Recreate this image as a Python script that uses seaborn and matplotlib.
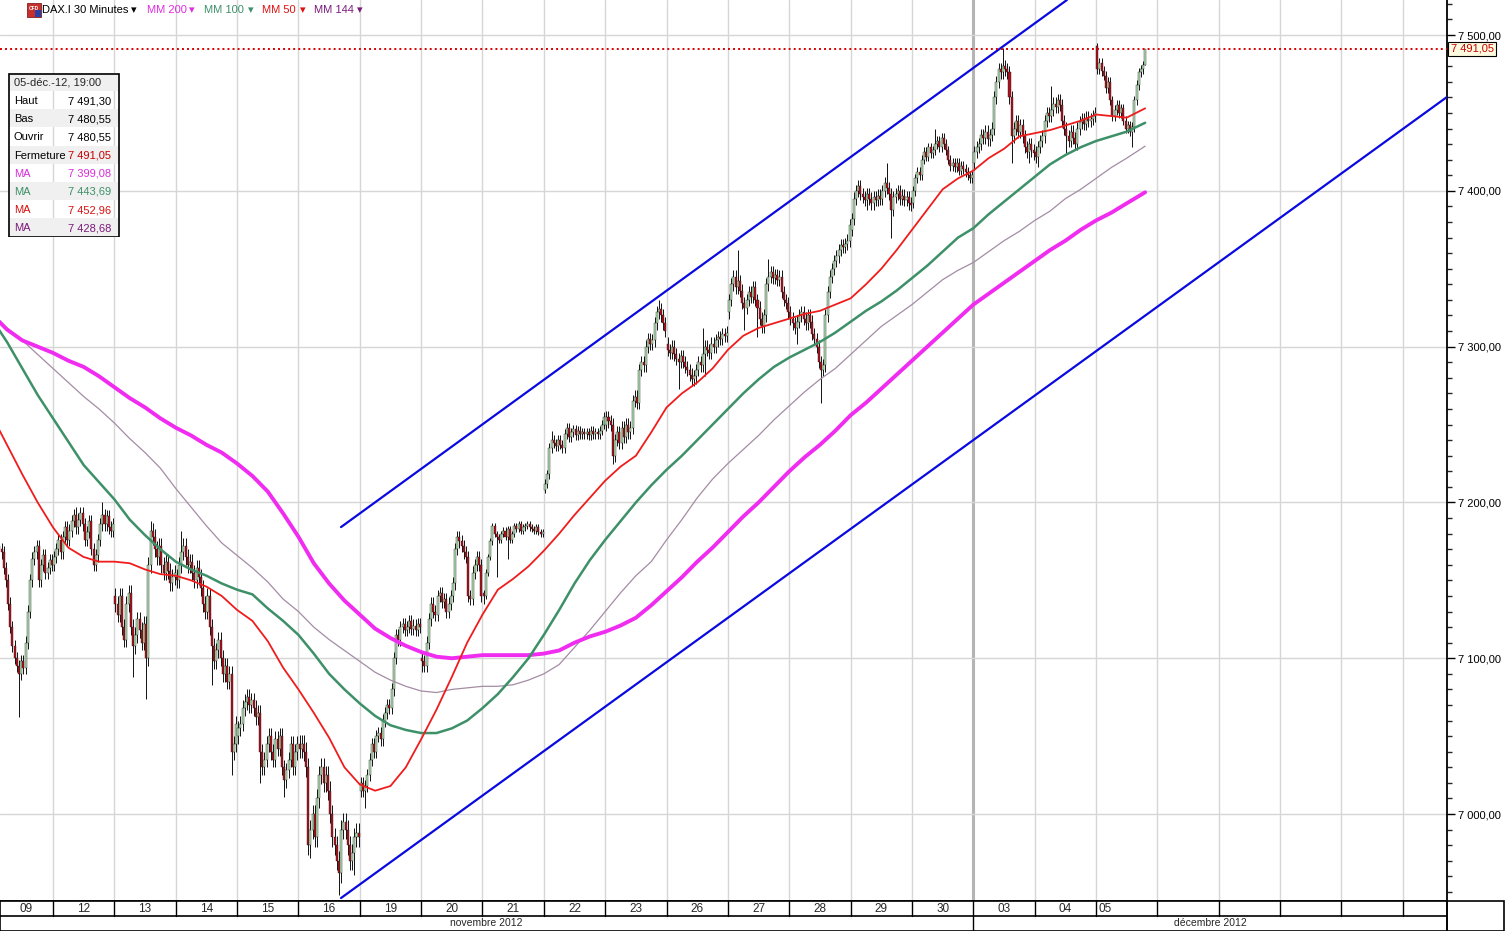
import numpy as np
import pandas as pd
import seaborn as sns
import matplotlib.pyplot as plt
from matplotlib.patches import Rectangle
from matplotlib.ticker import MultipleLocator, FuncFormatter
import matplotlib.transforms as mtransforms

# trading days shown on the date axis (30 minute bars, 28 per session)
day_labels = ['09', '12', '13', '14', '15', '16', '19', '20', '21', '22', '23',
              '26', '27', '28', '29', '30', '03', '04', '05']
bars_per_day = 28
empty_days = 5  # blank slots to the right of the last session

# open of the first bar of each session
day_opens = [7155, 7160, 7140, 7152, 7050, 7045, 7015, 7100, 7142, 7208, 7250,
             7302, 7322, 7322, 7375, 7392, 7418, 7425, 7493]

# closes of each bar, one list per session
closes_by_day = [
    [7160, 7165, 7172, 7170, 7168, 7158, 7150, 7135, 7120, 7108, 7100, 7095, 7090, 7098,
     7094, 7110, 7130, 7150, 7164, 7168, 7172, 7150, 7160, 7166, 7155, 7158, 7163, 7160],
    [7165, 7170, 7176, 7168, 7178, 7184, 7176, 7182, 7188, 7192, 7184, 7189, 7193, 7186,
     7176, 7181, 7188, 7170, 7160, 7166, 7176, 7186, 7192, 7186, 7191, 7184, 7182, 7186],
    [7135, 7128, 7140, 7120, 7112, 7135, 7142, 7120, 7108, 7115, 7125, 7118, 7110, 7122,
     7100, 7160, 7182, 7178, 7170, 7165, 7172, 7160, 7155, 7162, 7156, 7148, 7152, 7155],
    [7150, 7160, 7168, 7172, 7165, 7160, 7162, 7155, 7150, 7158, 7152, 7145, 7135, 7130,
     7140, 7120, 7108, 7098, 7105, 7112, 7100, 7090, 7095, 7085, 7090, 7040, 7045, 7058],
    [7055, 7058, 7068, 7072, 7075, 7070, 7073, 7068, 7062, 7065, 7040, 7030, 7035, 7045,
     7050, 7040, 7035, 7048, 7042, 7050, 7030, 7022, 7028, 7035, 7045, 7030, 7040, 7045],
    [7042, 7045, 7040, 7030, 6980, 6990, 7000, 6985, 7010, 7025, 7030, 7020, 7025, 7015,
     7000, 6985, 6980, 6970, 6962, 6990, 6995, 6990, 6980, 6970, 6975, 6985, 6988, 6985],
    [7020, 7015, 7018, 7025, 7035, 7045, 7040, 7050, 7052, 7048, 7060, 7065, 7070, 7068,
     7080, 7100, 7115, 7112, 7120, 7122, 7118, 7120, 7124, 7119, 7121, 7118, 7122, 7120],
    [7098, 7095, 7110, 7125, 7135, 7130, 7128, 7140, 7142, 7136, 7138, 7130, 7135, 7140,
     7148, 7170, 7178, 7175, 7172, 7168, 7165, 7140, 7138, 7155, 7160, 7165, 7160, 7140],
    [7140, 7155, 7165, 7175, 7185, 7180, 7178, 7176, 7180, 7182, 7178, 7183, 7176, 7180,
     7185, 7183, 7186, 7182, 7184, 7185, 7186, 7184, 7183, 7182, 7184, 7181, 7180, 7181],
    [7212, 7218, 7235, 7240, 7238, 7236, 7240, 7237, 7235, 7244, 7248, 7242, 7245, 7247,
     7243, 7246, 7244, 7245, 7244, 7245, 7243, 7246, 7244, 7245, 7244, 7246, 7250, 7255],
    [7255, 7252, 7250, 7230, 7240, 7245, 7238, 7248, 7242, 7250, 7245, 7248, 7265, 7268,
     7264, 7285, 7290, 7288, 7300, 7305, 7302, 7304, 7315, 7322, 7324, 7320, 7315, 7310],
    [7298, 7296, 7300, 7295, 7292, 7290, 7294, 7290, 7287, 7285, 7282, 7279, 7281, 7285,
     7290, 7288, 7295, 7300, 7298, 7296, 7302, 7300, 7304, 7306, 7305, 7308, 7307, 7309],
    [7330, 7340, 7345, 7338, 7342, 7336, 7328, 7325, 7330, 7335, 7332, 7338, 7330, 7325,
     7318, 7313, 7320, 7340, 7345, 7348, 7344, 7346, 7343, 7345, 7335, 7330, 7328, 7322],
    [7318, 7315, 7312, 7316, 7320, 7322, 7318, 7315, 7320, 7316, 7308, 7305, 7300, 7290,
     7285, 7288, 7320, 7335, 7345, 7350, 7355, 7358, 7362, 7365, 7364, 7366, 7368, 7378],
    [7382, 7395, 7400, 7403, 7398, 7396, 7394, 7398, 7395, 7392, 7396, 7394, 7397, 7395,
     7400, 7405, 7402, 7398, 7388, 7396, 7398, 7400, 7395, 7397, 7394, 7396, 7392, 7391],
    [7400, 7408, 7412, 7410, 7420, 7425, 7422, 7428, 7424, 7426, 7430, 7432, 7428, 7434,
     7430, 7426, 7420, 7416, 7418, 7415, 7418, 7413, 7416, 7414, 7412, 7410, 7408, 7410],
    [7425, 7428, 7430, 7436, 7434, 7438, 7433, 7436, 7440, 7460, 7470, 7478, 7476, 7480,
     7478, 7476, 7460, 7435, 7440, 7445, 7438, 7442, 7435, 7428, 7425, 7430, 7426, 7424],
    [7422, 7428, 7432, 7435, 7445, 7450, 7448, 7452, 7456, 7454, 7458, 7455, 7445, 7440,
     7435, 7432, 7438, 7434, 7430, 7440, 7444, 7446, 7443, 7447, 7445, 7446, 7448, 7450],
    [7478, 7482, 7477, 7474, 7466, 7470, 7458, 7448, 7452, 7455, 7450, 7453, 7445, 7440,
     7442, 7438, 7441, 7458, 7468, 7476, 7478, 7480.55, 7491.05],
]

# usual wick length per session, in points
typical_wick = [4, 4, 5, 5, 5, 6, 4, 4, 2, 3, 4, 4, 4, 4, 4, 3, 4, 4, 3]

# bars with a visibly longer wick: (session, bar) -> (high, low)
notable_wicks = {
    (0, 12): (None, 7062), (1, 10): (7197, None), (1, 22): (7200, None),
    (2, 8): (None, 7088), (2, 14): (None, 7074), (2, 16): (7188, None),
    (3, 2): (7182, None), (3, 16): (None, 7083), (3, 25): (None, 7025),
    (4, 10): (None, 7020), (4, 21): (None, 7011),
    (5, 5): (None, 6972), (5, 18): (None, 6948), (5, 25): (None, 6961),
    (6, 2): (None, 7004), (7, 0): (None, 7091), (8, 0): (None, 7135),
    (8, 6): (None, 7152), (8, 11): (None, 7164),
    (9, 0): (None, 7206), (9, 3): (7246, None),
    (10, 3): (None, 7225), (10, 24): (7330, None),
    (11, 5): (None, 7273), (11, 13): (None, 7276), (11, 16): (7312, None), (11, 17): (None, 7281),
    (12, 4): (7362, None), (12, 7): (None, 7311), (12, 13): (None, 7306), (12, 18): (7356, None),
    (13, 3): (None, 7302), (13, 14): (None, 7264),
    (14, 7): (None, 7388), (14, 16): (7418, None), (14, 18): (None, 7370),
    (15, 10): (7440, None),
    (16, 13): (7492, None), (16, 17): (None, 7418), (16, 25): (None, 7418),
    (17, 1): (None, 7415), (17, 7): (7467, None), (17, 14): (None, 7424),
    (18, 0): (7495, None), (18, 16): (None, 7428), (18, 22): (7491.30, 7480.55),
}

# moving averages, read every quarter session (session index units)
ma_times = [i * 0.25 for i in range(75)] + [18.8]
mm200 = [7321, 7311, 7304, 7300, 7296, 7291, 7287, 7281, 7274, 7267,
         7261, 7254, 7248, 7243, 7237, 7232, 7225, 7217, 7207, 7193,
         7178, 7161, 7148, 7137, 7128, 7119, 7113, 7108, 7104, 7101,
         7100, 7101, 7102, 7102, 7102, 7102, 7103, 7105, 7110, 7114,
         7117, 7121, 7126, 7134, 7143, 7152, 7162, 7171, 7181, 7191,
         7200, 7210, 7220, 7229, 7237, 7246, 7256, 7264, 7273, 7282,
         7291, 7300, 7309, 7318, 7327, 7334, 7341, 7348, 7355, 7362,
         7368, 7375, 7381, 7386, 7392, 7399.08]
mm100 = [7318, 7303, 7286, 7269, 7254, 7239, 7224, 7213, 7202, 7189,
         7179, 7170, 7162, 7157, 7153, 7148, 7144, 7141, 7132, 7124,
         7115, 7103, 7090, 7080, 7071, 7063, 7057, 7054, 7052, 7052,
         7055, 7060, 7068, 7077, 7088, 7100, 7115, 7131, 7148, 7163,
         7176, 7188, 7200, 7211, 7221, 7230, 7240, 7250, 7260, 7270,
         7279, 7287, 7293, 7298, 7303, 7309, 7316, 7323, 7329, 7336,
         7344, 7352, 7361, 7370, 7376, 7385, 7393, 7401, 7409, 7417,
         7423, 7428, 7432, 7435, 7438, 7443.69]
mm50 = [7256, 7237, 7218, 7200, 7184, 7171, 7165, 7162, 7162, 7161,
        7157, 7154, 7153, 7150, 7146, 7140, 7131, 7124, 7111, 7094,
        7080, 7065, 7049, 7030, 7019, 7015, 7018, 7030, 7048, 7067,
        7088, 7110, 7128, 7144, 7151, 7159, 7169, 7180, 7192, 7203,
        7214, 7223, 7230, 7245, 7261, 7270, 7277, 7286, 7298, 7307,
        7312, 7315, 7318, 7321, 7323, 7327, 7331, 7340, 7350, 7362,
        7375, 7388, 7401, 7408, 7413, 7421, 7427, 7435, 7437, 7439,
        7442, 7445, 7449, 7448, 7447, 7452.96]
mm144 = [7320, 7312, 7304, 7295, 7286, 7277, 7268, 7260, 7251, 7241,
         7232, 7222, 7209, 7197, 7185, 7174, 7166, 7158, 7149, 7138,
         7130, 7120, 7112, 7105, 7098, 7091, 7086, 7082, 7079, 7078,
         7080, 7081, 7082, 7082, 7083, 7086, 7090, 7096, 7107, 7118,
         7130, 7142, 7153, 7162, 7176, 7189, 7203, 7215, 7225, 7234,
         7243, 7253, 7262, 7271, 7279, 7286, 7295, 7304, 7313, 7320,
         7327, 7335, 7343, 7349, 7354, 7361, 7368, 7374, 7381, 7387,
         7395, 7401, 7408, 7415, 7421, 7428.68]

# hand drawn channel (anchor times and prices)
upper_channel_t = [5.694, 17.525]
upper_channel_p = [7184.2, 7522.5]
lower_channel_t = [5.694, 23.718]
lower_channel_p = [6946.1, 7460.2]

last_close = 7491.05
info_rows = [('Haut', '7 491,30'), ('Bas', '7 480,55'), ('Ouvrir', '7 480,55'),
             ('Fermeture', '7 491,05'), ('MA', '7 399,08'), ('MA', '7 443,69'),
             ('MA', '7 452,96'), ('MA', '7 428,68')]

# ---------------------------------------------------------------------------
sns.set_theme(style='white')
plt.rcParams['font.family'] = ['Liberation Sans', 'DejaVu Sans']

C_UP, C_DN = '#b4e0b4', '#b0101c'
C200, C100, C50, C144 = '#f02cf0', '#3d9068', '#f01c1c', '#a48ca4'

W, H = 1505, 931
fig = plt.figure(figsize=(W / 100, H / 100), dpi=100)
fig.patch.set_facecolor('white')

def fx(px):
    return px / W

def fy(py):
    return 1 - py / H

plot_right, plot_bottom = 1447, 901
ax = fig.add_axes([0, fy(plot_bottom), fx(plot_right), plot_bottom / H])
xmin, xmax = 0.136, 23.72
ymin, ymax = 6944.2, 7522.5
ax.set_xlim(xmin, xmax)
ax.set_ylim(ymin, ymax)

# build OHLC table
rows = []
for d, closes in enumerate(closes_by_day):
    prev = day_opens[d]
    for j, c in enumerate(closes):
        o = prev
        hi = max(o, c) + typical_wick[d]
        lo = min(o, c) - typical_wick[d]
        if (d, j) in notable_wicks:
            nh, nl = notable_wicks[(d, j)]
            hi = nh if nh is not None else hi
            lo = nl if nl is not None else lo
        rows.append(dict(t=d + (j + 0.5) / bars_per_day, open=o, high=hi, low=lo, close=c))
        prev = c
ohlc = pd.DataFrame(rows)

# grid
n_slots = len(day_labels) + empty_days
for k in range(1, n_slots):
    if k == 16:
        ax.axvline(k, color='#b4b4b4', lw=2.2, zorder=0)
    else:
        ax.axvline(k, color='#d6d6d6', lw=1, zorder=0)
for p in range(7000, 7501, 100):
    ax.axhline(p, color='#d6d6d6', lw=1, zorder=0)

# candles
up = ohlc['close'] >= ohlc['open']
bw = 0.92 / bars_per_day
ax.vlines(ohlc['t'], ohlc['low'], ohlc['high'], color='#111111', lw=0.7, zorder=2)
ax.bar(ohlc['t'], (ohlc['close'] - ohlc['open']).abs().clip(lower=0.8),
       bottom=ohlc[['open', 'close']].min(axis=1), width=bw,
       color=np.where(up, C_UP, C_DN), edgecolor='#1a1a1a', linewidth=0.28, zorder=2)

# moving averages
ma = pd.DataFrame({'t': ma_times, 'mm200': mm200, 'mm100': mm100, 'mm50': mm50, 'mm144': mm144})
sns.lineplot(data=ma, x='t', y='mm144', ax=ax, color=C144, lw=0.9, sort=False, estimator=None, zorder=3)
sns.lineplot(data=ma, x='t', y='mm200', ax=ax, color=C200, lw=2.8, sort=False, estimator=None, zorder=3)
sns.lineplot(data=ma, x='t', y='mm100', ax=ax, color=C100, lw=1.8, sort=False, estimator=None, zorder=3)
sns.lineplot(data=ma, x='t', y='mm50', ax=ax, color=C50, lw=1.3, sort=False, estimator=None, zorder=3)

# channel lines
ax.plot(upper_channel_t, upper_channel_p, color='#0a0ae0', lw=1.6, zorder=4)
ax.plot(lower_channel_t, lower_channel_p, color='#0a0ae0', lw=1.6, zorder=4)

# last price line
ax.axhline(last_close, color='#d80000', lw=1.4, ls=(0, (1, 1.6)), zorder=4)

# axes styling
ax.set_xlabel('')
ax.set_ylabel('')
ax.set_xticks([])
ax.yaxis.tick_right()
ax.yaxis.set_major_locator(MultipleLocator(100))
ax.yaxis.set_minor_locator(MultipleLocator(10))
ax.yaxis.set_major_formatter(FuncFormatter(
    lambda v, _: f'{v:,.2f}'.replace(',', ' ').replace('.', ',')))
ax.tick_params(axis='y', which='major', length=6, width=1, direction='out',
               labelsize=8, pad=2, colors='black', right=True, left=False)
ax.tick_params(axis='y', which='minor', length=3.5, width=1, direction='out', right=True, left=False)
for s in ['left', 'top']:
    ax.spines[s].set_visible(False)
ax.spines['right'].set_color('black')
ax.spines['right'].set_linewidth(1.3)
ax.spines['bottom'].set_color('black')
ax.spines['bottom'].set_linewidth(1.2)

# last price tag
trans = mtransforms.blended_transform_factory(ax.transAxes, ax.transData)
ax.text(1.0025, last_close, '7 491,05', transform=trans, ha='left', va='center',
        fontsize=8, color='#c80000', zorder=6,
        bbox=dict(boxstyle='square,pad=0.2', fc='#fffbe0', ec='black', lw=0.8))

# date axis
dax = fig.add_axes([0, 0, fx(plot_right), (H - plot_bottom) / H])
dax.set_xlim(xmin, xmax)
dax.set_ylim(0, 2)
dax.set_xticks([])
dax.set_yticks([])
dax.set_facecolor('white')
for s in dax.spines.values():
    s.set_color('black')
    s.set_linewidth(1.2)
dax.axhline(1, color='black', lw=1.2)
for k in range(1, n_slots):
    dax.plot([k, k], [1, 2], color='black', lw=1)
dax.plot([16, 16], [0, 1], color='black', lw=1)
for d, lab in enumerate(day_labels):
    if d == 0:
        tx, ha = (xmin + 1) / 2, 'center'
    elif d == len(day_labels) - 1:
        tx, ha = d + 0.04, 'left'
    else:
        tx, ha = d + 0.5, 'center'
    dax.text(tx, 1.5, lab, ha=ha, va='center', fontsize=8.5)
dax.text((xmin + 16) / 2, 0.5, 'novembre 2012', ha='center', va='center', fontsize=7.5)
dax.text((16 + xmax) / 2, 0.5, 'décembre 2012', ha='center', va='center', fontsize=7.5)

# corner box under the price scale
fig.patches.append(Rectangle((fx(plot_right), 0), fx(W - plot_right) - 0.0007, (H - plot_bottom) / H,
                             transform=fig.transFigure, fill=False, ec='black', lw=1.2))

# header line with icon and moving average names
fig.patches.append(Rectangle((fx(27), fy(17)), fx(14), 14 / H, transform=fig.transFigure,
                             fc='#c8302c', ec='#802020', lw=0.6))
fig.patches.append(Rectangle((fx(35), fy(17)), fx(6), 7 / H, transform=fig.transFigure,
                             fc='#2840a8', ec='none'))
fig.text(fx(34), fy(8), 'CFD', fontsize=3.5, color='white', ha='center', va='center', weight='bold')
legend_items = [(42, 'DAX.I 30 Minutes', 'black', 131), (147, 'MM 200', '#e02ce0', 189),
                (204, 'MM 100', '#3d9068', 248), (262, 'MM 50', '#e01010', 300),
                (314, 'MM 144', '#7a1a7a', 357)]
for x0, txt, col, xa in legend_items:
    fig.text(fx(x0), fy(10), txt, fontsize=8, color=col, ha='left', va='center')
    fig.text(fx(xa), fy(10), '\u25be', fontsize=8, color=col, ha='left', va='center')

# info panel
iax = fig.add_axes([fx(8), fy(237), fx(112), 164 / H])
iax.set_xlim(0, 112)
iax.set_ylim(164, 0)
iax.axis('off')
iax.add_patch(Rectangle((0, 0), 112, 18, fc='#f0f0f0', ec='none'))
iax.text(6, 9.5, '05-déc.-12, 19:00', fontsize=8, va='center', ha='left')
row_cols = ['black', 'black', 'black', 'black', '#d82cd8', '#3d9068', '#d81010', '#7a1a7a']
for i, (lab, val) in enumerate(info_rows):
    top = 18 + i * 18.2
    if i % 2 == 1:
        iax.add_patch(Rectangle((0, top), 112, 18.2, fc='#f0f0f0', ec='none'))
    vcol = '#c80000' if lab == 'Fermeture' else row_cols[i]
    iax.text(6, top + 10, lab, fontsize=8, color=row_cols[i], va='center', ha='left')
    iax.text(103, top + 10, val, fontsize=8, color=vcol, va='center', ha='right')
iax.add_patch(Rectangle((0.5, 0.5), 111, 163, fill=False, ec='black', lw=1.2))

fig.savefig('out.png', dpi=100, facecolor='white')
